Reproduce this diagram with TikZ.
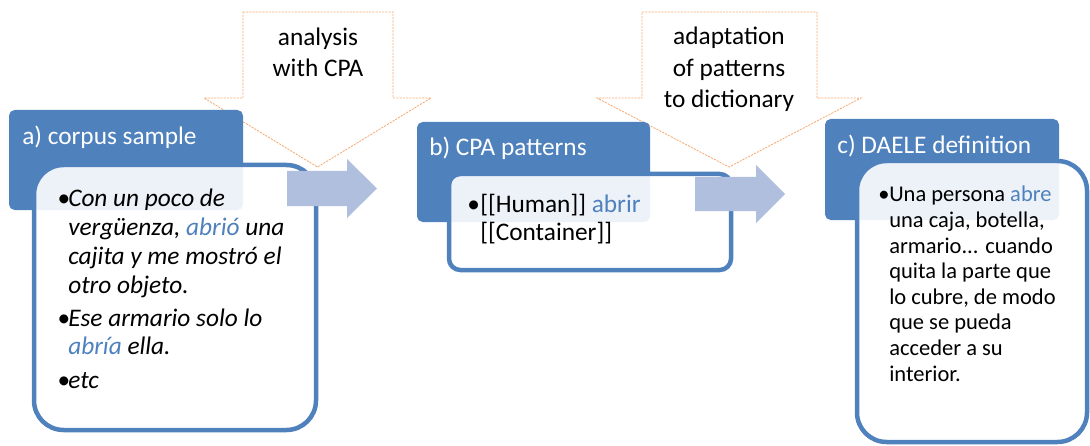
\documentclass[tikz,border=0pt]{standalone}
\usepackage{fontspec}
\setmainfont{Carlito}
\usetikzlibrary{positioning}

\definecolor{accent}{RGB}{79,129,189}
\definecolor{accentlight}{RGB}{175,191,221}
\definecolor{dashorange}{RGB}{248,170,115}

\newlength{\bulind}
\setlength{\bulind}{0.275cm}
\newcommand{\verbhl}[1]{\textcolor{accent}{#1}}
\newcommand{\bul}{\makebox[\bulind][l]{\textbullet}}

\begin{document}
\begin{tikzpicture}[
    x=0.025cm, y=-0.025cm,
    head/.style={fill=accent, rounded corners=4pt},
    card/.style={draw=accent, line width=3.2pt, fill=white, fill opacity=0.9, rounded corners=#1},
    card/.default=21pt,
    process/.style={draw=dashorange, line width=0.6pt, dash pattern=on 1.5pt off 0.8pt, fill=white},
    flow/.style={fill=accentlight},
    headlabel/.style={anchor=base west, inner sep=0pt, text=white, font=\fontsize{18}{21}\selectfont},
    steplabel/.style={anchor=base, inner sep=0pt, align=center, font=\fontsize{18}{22.5}\selectfont},
    bodytext/.style={anchor=base west, inner sep=0pt, align=left}
]
\useasboundingbox (0,0) rectangle (1090,446);

% process arrows at the top
\draw[process] (243,12) -- (393,12) -- (393,98) -- (431,98) -- (317.5,167) -- (204,98) -- (243,98) -- cycle;
\draw[process] (642,12) -- (817,12) -- (817,98) -- (861,98) -- (729,167) -- (597,98) -- (642,98) -- cycle;
% (base = last line)
\node (analysis) [steplabel] at (318,77) {analysis\\with CPA};
\node (adaptation) [steplabel] at (729,108) {adaptation\\of patterns\\to dictionary};

% headers
\fill[head] (9,110) rectangle (243,210);
\fill[head] (417,122) rectangle (650,222);
\fill[head] (825,119) rectangle (1059,220);
\node (corpus) [headlabel] at (22,145) {a) corpus sample};
\node (patterns) [headlabel] at (429,156) {b) CPA patterns};
\node (daele) [headlabel] at (837,153) {c) DAELE definition};

% cards
\draw[card] (34,165) rectangle (316,430);
\draw[card=8pt] (449,174) rectangle (731,270);
\draw[card] (857,161) rectangle (1087,442);

\node (sample) [bodytext, font=\fontsize{18}{20.5}\selectfont\itshape] at (57,388)
  {\bul Con un poco de\\
   \hspace*{\bulind}vergüenza, \verbhl{abrió} una\\
   \hspace*{\bulind}cajita y me mostró el\\
   \hspace*{\bulind}otro objeto.\\[3pt]
   \bul Ese armario solo lo\\
   \hspace*{\bulind}\verbhl{abría} ella.\\[3pt]
   \bul etc};
\node (pattern) [bodytext, font=\fontsize{18}{19.9}\selectfont] at (467,240)
  {\makebox[0.325cm][l]{\textbullet}[[Human]] \verbhl{abrir}\\
   \hspace*{0.325cm}[[Container]]};
\node (definition) [bodytext, font=\fontsize{16}{18.2}\selectfont] at (878,381)
  {\bul Una persona \verbhl{abre}\\
   \hspace*{\bulind}una caja, botella,\\
   \hspace*{\bulind}armario... cuando\\
   \hspace*{\bulind}quita la parte que\\
   \hspace*{\bulind}lo cubre, de modo\\
   \hspace*{\bulind}que se pueda\\
   \hspace*{\bulind}acceder a su\\
   \hspace*{\bulind}interior.};

% flow arrows
\fill[flow] (287,171) -- (347,171) -- (347,159) -- (377,188.5) -- (347,218) -- (347,206) -- (287,206) -- cycle;
\fill[flow] (695,177) -- (756,177) -- (756,165) -- (785,194) -- (756,223) -- (756,211) -- (695,211) -- cycle;
\end{tikzpicture}
\end{document}
